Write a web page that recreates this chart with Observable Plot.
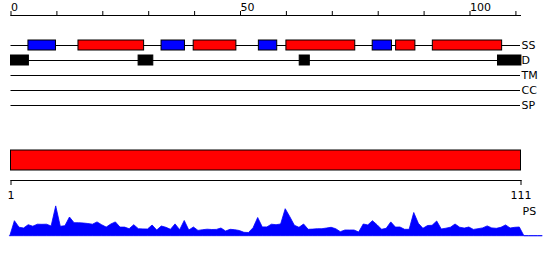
<!DOCTYPE html>
<html>
<head>
<meta charset="utf-8">
<script src="https://cdn.jsdelivr.net/npm/d3@7"></script>
<script src="https://cdn.jsdelivr.net/npm/@observablehq/plot@0.6"></script>
<style>
  html, body { margin: 0; padding: 0; background: white; }
  #chart { width: 550px; height: 260px; overflow: hidden; }
  #chart svg { display: block; }
</style>
</head>
<body>
<div id="chart"></div>
<script>
// ---- data ----
const tracks = ["SS", "D", "TM", "CC", "SP"];
const ssType  = ["E", "H", "E", "H", "E", "H", "E", "H", "H"];
const ssStart = [3.8, 14.7, 32.8, 39.8, 54.0, 60.0, 78.8, 83.9, 91.9];
const ssEnd   = [9.8, 29.0, 37.9, 49.1, 58.0, 75.0, 83.0, 88.1, 107.0];
const disStart = [0, 27.8, 62.9, 106.1];
const disEnd   = [3.9, 31.0, 65.1, 111.2];
const topTicks  = [0, 10, 20, 30, 40, 50, 60, 70, 80, 90, 100, 110];
const topLabels = [0, 50, 100];
const seqStart = 1;
const seqEnd = 111;
const bottomLabels = [1, 111];
const ps = [0,
  15, 8.5, 7.7, 11, 9.5, 11.5, 11.4, 11.5, 9.7, 29.8,
  9.4, 10, 18.7, 13, 13, 12.7, 12.2, 11.5, 13.8, 11,
  8.6, 11.7, 13.8, 8.6, 8.6, 7, 11, 7, 6.8, 6.7,
  10.7, 5.7, 9.7, 8.4, 6.4, 11.8, 6, 15.2, 5.7, 8.7,
  5.3, 6, 6.5, 6.2, 6.3, 7.7, 4.7, 6.4, 6, 5.2,
  3.4, 3.2, 8, 18.2, 8.8, 8.8, 11.5, 11, 11.7, 27,
  19, 10.4, 8.4, 11.7, 6.4, 6.6, 7, 7, 7.7, 8.4,
  7, 4, 5.7, 5.7, 5.7, 3.7, 11.7, 10.8, 15, 11,
  6.4, 7.4, 13.8, 8.6, 8.7, 6.4, 6.4, 23.2, 12.4, 7.4,
  10.2, 10.4, 14.7, 6.7, 7.5, 8.5, 11.7, 8.5, 7.6, 8.7,
  6.3, 7, 7.8, 9.8, 7.8, 7.4, 8.4, 10.8, 7.7, 8.4,
  8.7,
  0, 0, 0, 0, 0];
const psMax = 30;

const typeColor = {H: "#ff0000", E: "#0000ff"};
const ssData = ssType.map((t, i) => ({type: t, start: ssStart[i], end: ssEnd[i], track: "SS"}));
const disData = disStart.map((s, i) => ({start: s, end: disEnd[i], track: "D"}));
const psData = ps.map((v, k) => ({pos: k - 0.15, v}));

const plotStyle = {fontFamily: "DejaVu Sans", fontSize: "11px", color: "black", background: "white", overflow: "visible"};
const chartEl = document.getElementById("chart");

// ---- top panel: axis + tracks ----
const topPanel = Plot.plot({
  width: 550, height: 120,
  marginTop: 15, marginLeft: 10.5, marginRight: 30, marginBottom: 0,
  style: plotStyle,
  x: {domain: [0, 111], label: null},
  y: {type: "band", domain: tracks, range: [37.5, 112.5], paddingInner: 1/3, paddingOuter: 1/6, round: false, label: null},
  marks: [
    Plot.ruleY(tracks, {y: d => d, stroke: "black"}),
    Plot.barX(ssData, {x1: "start", x2: "end", y: "track", fill: d => typeColor[d.type], stroke: "black"}),
    Plot.barX(disData, {x1: "start", x2: "end", y: "track", fill: "black", stroke: "black"}),
    Plot.frame({anchor: "top", stroke: "black"}),
    Plot.axisX({anchor: "top", ticks: topTicks, tickSize: 5, tickFormat: () => "", label: null}),
    Plot.axisX({anchor: "top", ticks: topLabels, tickSize: 0, tickPadding: 5, textAnchor: "start", tickFormat: d => String(d), label: null}),
    Plot.axisY({anchor: "right", tickSize: 0, tickPadding: 1, textAnchor: "start", label: null})
  ]
});
chartEl.appendChild(topPanel);

// ---- middle panel: sequence bar + residue axis ----
const midPanel = Plot.plot({
  width: 550, height: 85,
  marginTop: 0, marginLeft: 10.5, marginRight: 29.5, marginBottom: 25,
  style: plotStyle,
  x: {domain: [seqStart, seqEnd], label: null},
  y: {type: "band", domain: ["seq"], range: [30, 50], padding: 0, round: false, label: null},
  marks: [
    Plot.barX([{start: seqStart, end: seqEnd}], {x1: "start", x2: "end", y: () => "seq", fill: "#ff0000", stroke: "black"}),
    Plot.frame({anchor: "bottom", stroke: "black"}),
    Plot.axisX({anchor: "bottom", ticks: bottomLabels, tickSize: 5, tickPadding: 6, tickFormat: d => String(d), label: null}),
    Plot.axisY({ticks: [], label: null})
  ]
});
chartEl.appendChild(midPanel);

// ---- bottom panel: PS profile ----
const botPanel = Plot.plot({
  width: 550, height: 55,
  marginTop: 0, marginLeft: 10.5, marginRight: 30, marginBottom: 0,
  style: plotStyle,
  x: {domain: [0, 111], label: null},
  y: {domain: [0, psMax], range: [30.7, 0.7], label: null},
  marks: [
    Plot.areaY(psData, {x: "pos", y: "v", fill: "#0000ff", stroke: "#0000ff", strokeWidth: 0.8}),
    Plot.text(["PS"], {frameAnchor: "top-right", textAnchor: "start", lineAnchor: "top", dx: 2, dy: 1.5}),
    Plot.axisX({ticks: [], label: null}),
    Plot.axisY({ticks: [], label: null})
  ]
});
chartEl.appendChild(botPanel);
</script>
</body>
</html>
